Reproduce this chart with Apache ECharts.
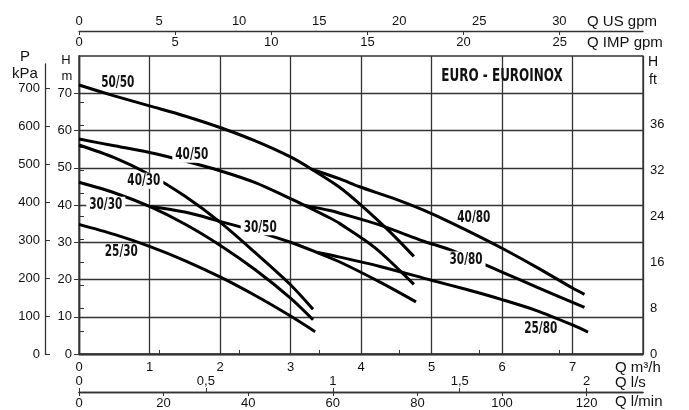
<!DOCTYPE html>
<html><head><meta charset="utf-8">
<script src="https://cdn.jsdelivr.net/npm/echarts@6/dist/echarts.min.js"></script>
<style>html,body{margin:0;padding:0;background:#fff}#c{width:689px;height:410px}</style>
</head><body><div id="c"></div>
<script>
// ---- data (Q in m3/h, H in m) ----
const curveNames = ['50/50','40/50','40/30','30/30','30/50','25/30','40/80','30/80','25/80'];
const q5050 = [0,0.5,1,1.5,2,2.5,3,3.3,3.7,3.98,4.4,4.75];
const h5050 = [72.2,69.3,66.6,63.9,60.8,57.2,52.9,49.6,44.7,40.3,33.0,26.2];
const q4050 = [0,0.5,1,1.5,2,2.5,3,3.2,3.56,3.7,4.2,4.75];
const h4050 = [57.7,55.9,54.1,51.8,49.2,46.0,41.7,39.9,36.5,35.0,28.5,18.7];
const q4030 = [0,0.5,1,1.5,2,2.5,3,3.32];
const h4030 = [56.1,52.7,48.2,42.4,35.4,27.2,18.6,12.0];
const q3030 = [0,0.5,1,1.5,2,2.5,3,3.32];
const h3030 = [46.1,43.3,39.6,34.9,29.2,22.6,15.0,9.2];
const q3050 = [1,1.5,2,2.5,3,3.37,3.7,4.27,4.78];
const h3050 = [39.6,38.1,35.6,33.0,30.0,27.3,24.7,19.3,14.0];
const q2530 = [0,0.5,1,1.5,2,2.5,3,3.35];
const h2530 = [34.8,32.1,28.9,25.1,20.7,15.7,10.2,6.0];
const q4080 = [3.3,3.7,3.98,4.5,5,5.5,6,6.5,7,7.17];
const h4080 = [49.6,47.0,44.9,41.5,37.7,33.2,28.4,23.2,17.7,16.0];
const q3080 = [3.2,3.56,3.7,4.27,4.9,5.26,5.73,6,6.5,7.17];
const h3080 = [39.9,38.5,37.8,34.6,30.2,28.0,24.2,22.0,17.9,12.5];
const q2580 = [3.37,3.7,4.27,5,5.5,6,6.5,7,7.22];
const h2580 = [27.3,26.0,23.5,19.8,17.3,14.6,11.6,7.8,5.9];

// curve label anchors (data units)
const labelNames = ['50/50','40/50','40/30','30/30','30/50','25/30','40/80','30/80','25/80'];
const labelQ = [0.55,1.6,0.92,0.38,2.57,0.6,5.6,5.49,6.55];
const labelH = [72.7,53.5,46.5,40.1,34.0,27.5,36.6,25.4,6.7];
const labelOnLine = [false,true,true,true,true,false,false,true,false];

// tick values
const m3hTicks = [0,1,2,3,4,5,6,7];
const usGpmTicks = [0,5,10,15,20,25,30];
const impGpmTicks = [0,5,10,15,20,25];
const lsTicks = [0,0.5,1,1.5,2];
const lminTicks = [0,20,40,60,80,100,120];
const hmTicks = [0,10,20,30,40,50,60,70];
const kpaTicks = [0,100,200,300,400,500,600,700];
const ftTicks = [0,4,8,12,16,20,24,28,32,36,40,44];
const ftLabelValues = [0,8,16,24,32,40];
const ftLabelTexts = ['0','8','16','24','32','36'];

const Q_MAX = 8, H_MAX = 80, FT_MAX = 52;
const US_GPM = 4.4029, IMP_GPM = 3.6662, LS = 1/3.6, LMIN = 1000/60, KPA = 9.81;

const chart = echarts.init(document.getElementById('c'), null, {renderer:'canvas'});
const axisFont = {fontFamily:'"Liberation Sans", Arial, sans-serif', fontSize:13, color:'#111'};
const gridColor = '#333';
const condensed = '"DejaVu Sans Condensed","DejaVu Sans",sans-serif';

const curves = [
  [q5050,h5050],[q4050,h4050],[q4030,h4030],[q3030,h3030],[q3050,h3050],
  [q2530,h2530],[q4080,h4080],[q3080,h3080],[q2580,h2580]
];
const series = curves.map((c,i)=>({
  name: curveNames[i], type:'line', xAxisIndex:0, yAxisIndex:0,
  data: c[0].map((x,j)=>[x,c[1][j]]), smooth:0.3, symbol:'none',
  lineStyle:{color:'#000', width:3}, z:3, silent:true
}));
series.push({type:'line', xAxisIndex:5, yAxisIndex:2, data:[], silent:true});

const sideLine = {show:true, lineStyle:{color:gridColor, width:1.3}};
const fmtComma = v => String(v).replace('.',',');

chart.setOption({
  animation:false,
  grid:[
    {left:79, right:46, top:56, bottom:56, show:true, borderColor:gridColor, borderWidth:1.3},
    {left:45, top:64, bottom:56, width:1}
  ],
  xAxis:[
    {gridIndex:0, type:'value', min:0, max:Q_MAX, interval:1, position:'bottom',
     axisLine:sideLine, axisTick:{show:false},
     axisLabel:Object.assign({margin:7, customValues:m3hTicks}, axisFont),
     splitLine:{show:true, lineStyle:{color:gridColor, width:1.3}}},
    {gridIndex:0, type:'value', min:0, max:Q_MAX*US_GPM, position:'top', offset:25,
     axisLine:sideLine, axisTick:{show:true, length:4, customValues:usGpmTicks, lineStyle:{color:gridColor}},
     axisLabel:Object.assign({margin:3, customValues:usGpmTicks}, axisFont), splitLine:{show:false}},
    {gridIndex:0, type:'value', min:0, max:Q_MAX*IMP_GPM, position:'top', offset:25,
     axisLine:sideLine, axisTick:{show:true, inside:true, length:4, customValues:impGpmTicks, lineStyle:{color:gridColor}},
     axisLabel:Object.assign({inside:true, margin:5, customValues:impGpmTicks}, axisFont), splitLine:{show:false}},
    {gridIndex:0, type:'value', min:0, max:Q_MAX*LS, position:'bottom', offset:38,
     axisLine:sideLine, axisTick:{show:true, inside:true, length:4, customValues:lsTicks, lineStyle:{color:gridColor}},
     axisLabel:Object.assign({inside:true, margin:4, customValues:lsTicks, formatter:fmtComma}, axisFont), splitLine:{show:false}},
    {gridIndex:0, type:'value', min:0, max:Q_MAX*LMIN, position:'bottom', offset:38,
     axisLine:sideLine, axisTick:{show:true, length:4, customValues:lminTicks, lineStyle:{color:gridColor}},
     axisLabel:Object.assign({margin:5, customValues:lminTicks}, axisFont), splitLine:{show:false}},
    {gridIndex:1, type:'value', show:false, min:0, max:1}
  ],
  yAxis:[
    {gridIndex:0, type:'value', min:0, max:H_MAX, interval:10, position:'left',
     axisLine:sideLine, axisTick:{show:true, length:5, customValues:hmTicks, lineStyle:{color:gridColor}},
     axisLabel:Object.assign({margin:7, customValues:hmTicks}, axisFont),
     splitLine:{show:true, lineStyle:{color:gridColor, width:1.3}}},
    {gridIndex:0, type:'value', min:0, max:FT_MAX, position:'right',
     axisLine:sideLine, axisTick:{show:true, length:5, customValues:ftTicks, lineStyle:{color:gridColor}},
     axisLabel:Object.assign({margin:7, customValues:ftLabelValues,
       formatter:v=>ftLabelTexts[ftLabelValues.indexOf(v)]}, axisFont), splitLine:{show:false}},
    {gridIndex:1, type:'value', min:0, max:H_MAX*KPA*(290/298), position:'left',
     axisLine:sideLine, axisTick:{show:true, inside:true, length:5, customValues:kpaTicks, lineStyle:{color:gridColor}},
     axisLabel:Object.assign({margin:5, customValues:kpaTicks}, axisFont), splitLine:{show:false}}
  ],
  series: series
});

function txt(text, x, y, size, align, extra){
  return Object.assign({type:'text', x:x, y:y, z:10, silent:true,
    style:{text:text, font:size+'px "Liberation Sans", Arial, sans-serif', fill:'#111',
      textAlign:align||'center', textVerticalAlign:'middle'}}, extra||{});
}
const graphics = [
  txt('P',25,57,15), txt('kPa',25,74,15), txt('H',66,60,13), txt('m',67,76,13),
  txt('H',648,62,14,'left'), txt('ft',649,80,14,'left'),
  txt('Q US gpm',587,22,15,'left'), txt('Q IMP gpm',587,43,15,'left'),
  txt('Q m³/h',615,368,15,'left'), txt('Q l/s',615,383,15,'left'), txt('Q l/min',615,402,15,'left'),
  {type:'text', x:502, y:76, z:10, scaleX:0.74, silent:true,
   style:{text:'EURO - EUROINOX', font:'bold 18px '+condensed, fill:'#111', textAlign:'center', textVerticalAlign:'middle'}}
];
labelNames.forEach((n,i)=>{
  const p = chart.convertToPixel({gridIndex:0}, [labelQ[i], labelH[i]]);
  graphics.push({type:'text', x:p[0], y:p[1], z:20, scaleX:0.73, silent:true,
    style:{text:n, font:'bold 16px '+condensed, fill:'#111', textAlign:'center', textVerticalAlign:'middle',
      backgroundColor: labelOnLine[i] ? '#fff' : null, padding:[0,4]}});
});
chart.setOption({graphic: graphics});
</script></body></html>
